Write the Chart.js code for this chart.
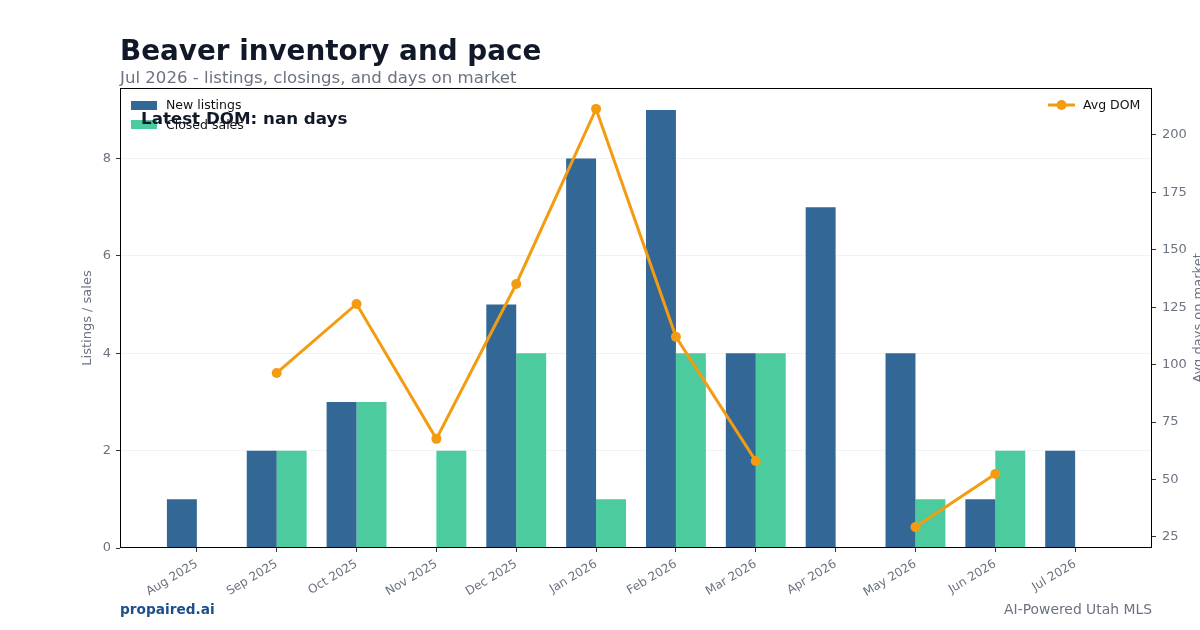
<!DOCTYPE html>
<html>
<head>
<meta charset="utf-8">
<script src="https://cdn.jsdelivr.net/npm/chart.js@4/dist/chart.umd.min.js"></script>
<style>
  html, body { margin: 0; padding: 0; background: #ffffff; }
  #wrap { position: relative; width: 1200px; height: 630px; overflow: hidden; }
  canvas { position: absolute; left: 0; top: 0; }
</style>
</head>
<body>
<div id="wrap"><canvas id="c" width="1200" height="630"></canvas></div>
<script>
// ---- Data ----
const months = ["Aug 2025","Sep 2025","Oct 2025","Nov 2025","Dec 2025","Jan 2026","Feb 2026","Mar 2026","Apr 2026","May 2026","Jun 2026","Jul 2026"];
const newListings = [1, 2, 3, 0, 5, 8, 9, 4, 7, 4, 1, 2];
const closedSales = [0, 2, 3, 2, 4, 1, 4, 4, 0, 1, 2, 0];
const avgDom = [null, 96.4, 126.4, 67.7, 135.1, 211.3, 112.1, 58.1, null, 29.3, 52.4, null];
const leftTicks = [0, 2, 4, 6, 8];
const rightTicks = [25, 50, 75, 100, 125, 150, 175, 200];

const titleText = "Beaver inventory and pace";
const subtitleText = "Jul 2026 - listings, closings, and days on market";
const annotationText = "Latest DOM: nan days";

const FONT = "'DejaVu Sans', sans-serif";
const GRAY = "#6b7280";
const DARK = "#111827";
const C_NEW = "#336896";
const C_CLOSED = "#4bcb9e";
const C_DOM = "#f39c12";

const toXY = arr => arr.map((v, i) => ({ x: i, y: v }));

const decorPlugin = {
  id: 'decor',
  afterDatasetsDraw(chart) {
    const ctx = chart.ctx;
    const a = chart.chartArea;
    ctx.save();
    // frame
    ctx.strokeStyle = "#000000";
    ctx.lineWidth = 1;
    ctx.strokeRect(Math.round(a.left) + 0.5, Math.round(a.top) + 0.5, Math.round(a.right - a.left) - 1, Math.round(a.bottom - a.top) - 1);

    // left legend
    ctx.textBaseline = 'middle';
    ctx.textAlign = 'left';
    ctx.font = "12.5px " + FONT;
    ctx.fillStyle = C_NEW;
    ctx.fillRect(131, 101, 26, 9);
    ctx.fillStyle = "#111111";
    ctx.fillText("New listings", 166, 105.5);
    ctx.fillStyle = C_CLOSED;
    ctx.fillRect(131, 120, 26, 9);
    ctx.fillStyle = "#111111";
    ctx.fillText("Closed sales", 166, 125.5);

    // annotation
    ctx.font = "bold 16.7px " + FONT;
    ctx.fillStyle = DARK;
    ctx.fillText(annotationText, 141, 120);

    // right legend
    ctx.strokeStyle = C_DOM;
    ctx.lineWidth = 3;
    ctx.beginPath();
    ctx.moveTo(1048, 105);
    ctx.lineTo(1075, 105);
    ctx.stroke();
    ctx.fillStyle = C_DOM;
    ctx.beginPath();
    ctx.arc(1061.5, 105, 5, 0, Math.PI * 2);
    ctx.fill();
    ctx.font = "12.5px " + FONT;
    ctx.fillStyle = "#111111";
    ctx.fillText("Avg DOM", 1083, 105.5);

    // right axis title (reads bottom to top)
    ctx.save();
    ctx.translate(1199, (a.top + a.bottom) / 2);
    ctx.rotate(-Math.PI / 2);
    ctx.textAlign = 'center';
    ctx.textBaseline = 'middle';
    ctx.font = "13px " + FONT;
    ctx.fillStyle = GRAY;
    ctx.fillText("Avg days on market", 0, 0);
    ctx.restore();

    // titles
    ctx.textBaseline = 'alphabetic';
    ctx.textAlign = 'left';
    ctx.font = "bold 27.8px " + FONT;
    ctx.fillStyle = DARK;
    ctx.fillText(titleText, 120, 60);
    ctx.font = "16.6px " + FONT;
    ctx.fillStyle = GRAY;
    ctx.fillText(subtitleText, 120, 83);

    // footer
    ctx.font = "bold 13.7px " + FONT;
    ctx.fillStyle = "#1d4f8a";
    ctx.fillText("propaired.ai", 120, 614);
    ctx.textAlign = 'right';
    ctx.font = "13.9px " + FONT;
    ctx.fillStyle = GRAY;
    ctx.fillText("AI-Powered Utah MLS", 1152, 614);
    ctx.restore();
  }
};

new Chart(document.getElementById('c'), {
  type: 'bar',
  data: {
    datasets: [
      {
        type: 'line',
        label: 'Avg DOM',
        data: toXY(avgDom),
        yAxisID: 'y2',
        xAxisID: 'x',
        borderColor: C_DOM,
        backgroundColor: C_DOM,
        borderWidth: 3,
        pointRadius: 5,
        pointHoverRadius: 5,
        pointBackgroundColor: C_DOM,
        pointBorderWidth: 0,
        spanGaps: false,
        tension: 0,
        order: 0
      },
      {
        label: 'New listings',
        data: toXY(newListings),
        backgroundColor: C_NEW,
        yAxisID: 'y',
        xAxisID: 'x',
        categoryPercentage: 0.75,
        barPercentage: 1.0,
        order: 1
      },
      {
        label: 'Closed sales',
        data: toXY(closedSales),
        backgroundColor: C_CLOSED,
        yAxisID: 'y',
        xAxisID: 'x',
        categoryPercentage: 0.75,
        barPercentage: 1.0,
        order: 2
      }
    ]
  },
  options: {
    responsive: false,
    animation: false,
    events: [],
    layout: { padding: { left: 76, right: 0, top: 88, bottom: 0 } },
    plugins: {
      legend: { display: false },
      title: { display: false },
      tooltip: { enabled: false }
    },
    scales: {
      x: {
        type: 'linear',
        position: 'bottom',
        min: -0.9625,
        max: 11.9625,
        offset: false,
        afterBuildTicks: s => { s.ticks = months.map((m, i) => ({ value: i })); },
        afterFit: s => { s.height = 82; },
        grid: { display: true, offset: false, drawOnChartArea: false, drawTicks: true, tickLength: 4, tickColor: '#333333' },
        border: { display: false },
        ticks: {
          autoSkip: false,
          maxRotation: 31,
          minRotation: 31,
          padding: 5,
          color: GRAY,
          font: { family: FONT, size: 12 },
          callback: (v) => months[v]
        }
      },
      y: {
        type: 'linear',
        position: 'left',
        min: 0,
        max: 9.45,
        z: 1,
        afterBuildTicks: s => { s.ticks = leftTicks.map(v => ({ value: v })); },
        afterFit: s => { s.width = 44; },
        grid: {
          color: (c) => (c.tick && c.tick.value === 0) ? 'rgba(0,0,0,0)' : 'rgba(228,231,236,0.55)',
          lineWidth: 1,
          drawTicks: true,
          tickLength: 4,
          tickColor: '#333333'
        },
        border: { display: false },
        ticks: { padding: 5, color: GRAY, font: { family: FONT, size: 13 } },
        title: { display: true, text: 'Listings / sales', color: GRAY, font: { family: FONT, size: 13 }, padding: { top: 4, bottom: 0 } }
      },
      y2: {
        type: 'linear',
        position: 'right',
        min: 20.2,
        max: 220.4,
        afterBuildTicks: s => { s.ticks = rightTicks.map(v => ({ value: v })); },
        afterFit: s => { s.width = 48; },
        grid: { drawOnChartArea: false, drawTicks: true, tickLength: 4, tickColor: '#333333' },
        border: { display: false },
        ticks: { padding: 6, color: GRAY, font: { family: FONT, size: 13 } }
      }
    }
  },
  plugins: [decorPlugin]
});
</script>
</body>
</html>
